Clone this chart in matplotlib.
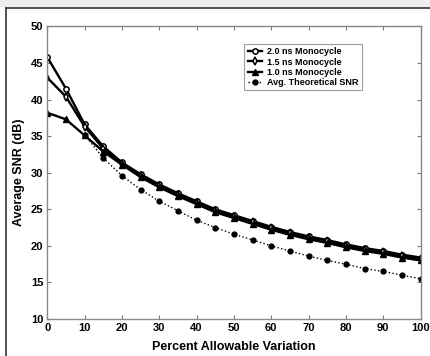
import matplotlib
matplotlib.use("Agg")
import matplotlib.pyplot as plt
from matplotlib.patches import Rectangle

plt.rcParams['font.family'] = ['Liberation Sans', 'DejaVu Sans']
plt.rcParams['font.weight'] = 'bold'

variation = [0, 5, 10, 15, 20, 25, 30, 35, 40, 45, 50, 55, 60, 65, 70, 75, 80, 85, 90, 95, 100]
snr_2ns = [45.8, 41.5, 36.6, 33.6, 31.4, 29.8, 28.4, 27.2, 26.1, 25.0, 24.2, 23.4, 22.6, 21.9, 21.3, 20.8, 20.2, 19.7, 19.3, 18.8, 18.4]
snr_15ns = [43.0, 40.4, 36.3, 33.3, 31.2, 29.6, 28.2, 27.0, 25.9, 24.8, 24.0, 23.2, 22.4, 21.7, 21.1, 20.6, 20.0, 19.5, 19.1, 18.6, 18.2]
snr_1ns = [38.2, 37.3, 35.1, 32.9, 31.1, 29.4, 28.0, 26.8, 25.7, 24.6, 23.8, 23.0, 22.2, 21.5, 20.9, 20.4, 19.8, 19.3, 18.9, 18.4, 18.0]
variation_theory = [10, 15, 20, 25, 30, 35, 40, 45, 50, 55, 60, 65, 70, 75, 80, 85, 90, 95, 100]
snr_theory = [35.2, 32.0, 29.6, 27.7, 26.1, 24.8, 23.5, 22.5, 21.6, 20.8, 20.0, 19.3, 18.6, 18.0, 17.5, 16.9, 16.5, 16.0, 15.5]

fig = plt.figure(figsize=(4.3, 3.56), dpi=100)
fig.patch.set_facecolor('white')

# light band and frame around the figure
fig.patches.append(Rectangle((0, 0.98), 1, 0.02, transform=fig.transFigure,
                             facecolor='#eeeeee', edgecolor='none', zorder=0))
fig.lines.append(plt.Line2D([0.015, 1.0], [0.9775, 0.9775], transform=fig.transFigure,
                            color='#333333', lw=1.2))
fig.lines.append(plt.Line2D([0.015, 0.015], [0.0, 0.9775], transform=fig.transFigure,
                            color='#333333', lw=1.2))

ax = fig.add_axes([0.110, 0.104, 0.868, 0.8216])

ax.plot(variation, snr_2ns, color='black', lw=1.7, marker='o', ms=3.8,
        mfc='white', mec='black', mew=1.1, label='2.0 ns Monocycle')
ax.plot(variation, snr_15ns, color='black', lw=1.7, marker='d', ms=4.2,
        mfc='white', mec='black', mew=1.1, label='1.5 ns Monocycle')
ax.plot(variation, snr_1ns, color='black', lw=1.7, marker='^', ms=4.2,
        mfc='black', mec='black', mew=1.0, label='1.0 ns Monocycle')
ax.plot(variation_theory, snr_theory, color='black', lw=1.0, ls=':', marker='o', ms=3.5,
        mfc='black', mec='black', label='Avg. Theoretical SNR')

ax.set_xlim(0, 100)
ax.set_ylim(10, 50)
ax.set_xticks(range(0, 101, 10))
ax.set_yticks(range(10, 51, 5))
ax.tick_params(direction='in', top=True, right=True, length=3, width=0.8,
               color='#777777', labelsize=8, pad=3)
for lab in ax.get_xticklabels() + ax.get_yticklabels():
    lab.set_fontweight('bold')
for s in ax.spines.values():
    s.set_color('#888888')
    s.set_linewidth(1.0)

ax.set_xlabel('Percent Allowable Variation', fontsize=9, fontweight='bold', labelpad=6)
ax.set_ylabel('Average SNR (dB)', fontsize=9, fontweight='bold', labelpad=4)

leg = ax.legend(loc='upper left', bbox_to_anchor=(0.528, 0.94), fontsize=6.5,
                frameon=True, fancybox=False, handlelength=1.6, handletextpad=0.6,
                borderpad=0.35, labelspacing=0.15, borderaxespad=0)
leg.get_frame().set_edgecolor('#888888')
leg.get_frame().set_linewidth(0.8)
for t in leg.get_texts():
    t.set_fontweight('bold')

fig.savefig('out.png', dpi=100)
